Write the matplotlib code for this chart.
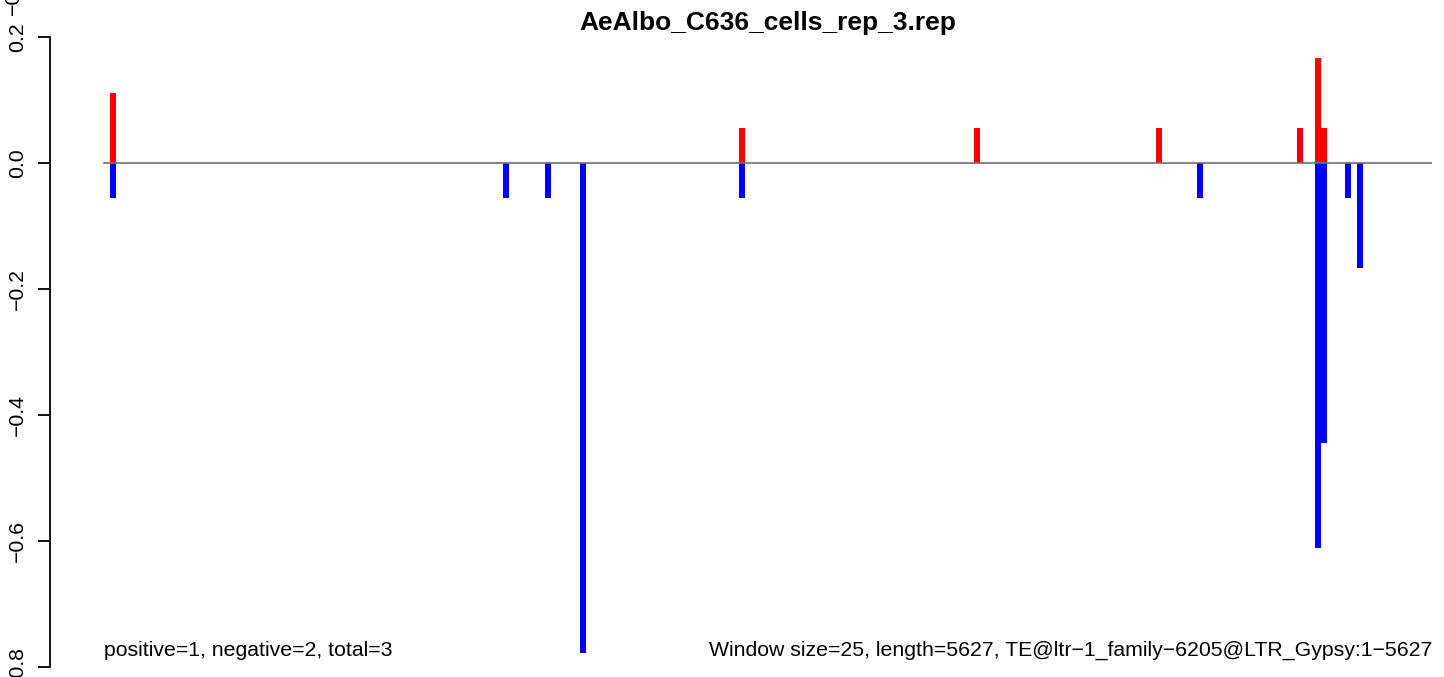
import matplotlib
matplotlib.use("Agg")
import matplotlib.pyplot as plt
from matplotlib.ticker import FixedLocator

plt.rcParams['font.family'] = ['Liberation Sans', 'DejaVu Sans']

# ---- data ----
title = "AeAlbo_C636_cells_rep_3.rep"
seq_length = 5627
window = 25
unit = 1.0 / 18.0
# window centres (bp) and values (in units of 1/18)
pos_x = [38, 2703, 3699, 4470, 5068, 5144, 5168]
pos_v = [2, 1, 1, 1, 1, 3, 1]
neg_x = [38, 1703, 1881, 2030, 2703, 4644, 5144, 5168, 5270, 5321]
neg_v = [-1, -1, -1, -14, -1, -1, -11, -8, -1, -3]
yticks = [0.2, 0.0, -0.2, -0.4, -0.6, -0.8]
ytick_labels = ["0.2", "0.0", "\u22120.2", "\u22120.4", "\u22120.6", "\u22120.8"]
left_note = "positive=1, negative=2, total=3"
right_note = "Window size=25, length=5627, TE@ltr\u22121_family\u22126205@LTR_Gypsy:1\u22125627"

W, H = 1444, 677
fig = plt.figure(figsize=(W / 100, H / 100), dpi=100)

# plot region: y-axis line at x=50px; x=0 bp at 104px, x=5627 bp at 1432px
px_per_bp = (1432 - 104) / seq_length
x_left = -(104 - 50) / px_per_bp
ax = fig.add_axes([50 / W, (H - 667) / H, (1432 - 50) / W, (667 - 37) / H])
ax.set_xlim(x_left, seq_length)
ax.set_ylim(-0.8, 0.2)

ax.bar(pos_x, [v * unit for v in pos_v], width=window, color="#ff0000",
       linewidth=0, align="center")
ax.bar(neg_x, [v * unit for v in neg_v], width=window, color="#0000ff",
       linewidth=0, align="center")
ax.plot([0, seq_length], [0, 0], color="#707070", lw=1.2, zorder=3)

for s in ["top", "right", "bottom"]:
    ax.spines[s].set_visible(False)
ax.spines["left"].set_linewidth(1.3)
ax.spines["left"].set_bounds(-0.8, 0.2)
ax.set_xticks([])
ax.yaxis.set_major_locator(FixedLocator(yticks))
ax.set_yticklabels(ytick_labels, rotation=90, va="center", fontsize=15.3)
ax.tick_params(axis="y", length=8.6, width=1.3, pad=8)

ax.text(0, -0.774, left_note, ha="left", va="center", fontsize=15.3,
        transform=ax.transData)
ax.text(seq_length, -0.774, right_note, ha="right", va="center", fontsize=15.3,
        transform=ax.transData)

fig.text(768 / W, 1 - 23 / H, title, ha="center", va="center",
         fontsize=19, fontweight="bold")
# label of panel above, partially visible at top edge
fig.text(13 / W, 1 - 15 / H, "\u22120.8", ha="center", va="bottom",
         rotation=90, fontsize=15.3)

fig.savefig("out.png", dpi=100)
